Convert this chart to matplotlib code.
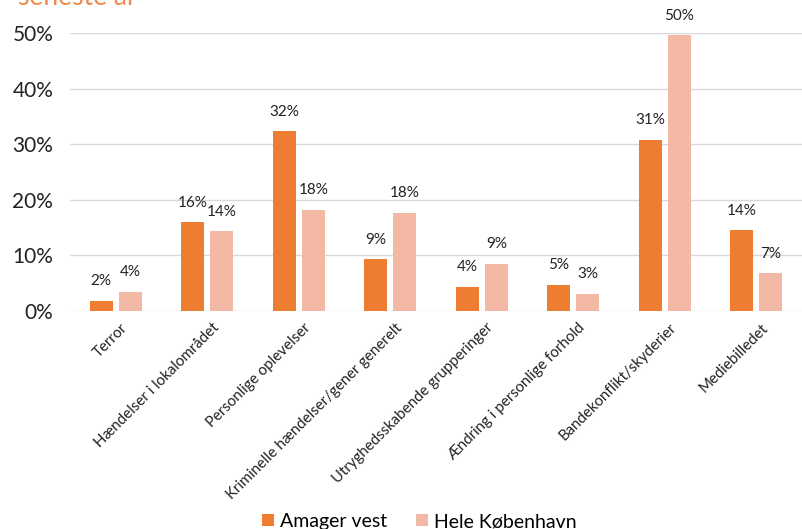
import matplotlib.pyplot as plt
import numpy as np

plt.rcParams['font.family'] = ['Lato', 'DejaVu Sans']

categories = ['Terror', 'Hændelser i lokalområdet', 'Personlige oplevelser',
              'Kriminelle hændelser/gener generelt', 'Utryghedsskabende grupperinger',
              'Ændring i personlige forhold', 'Bandekonflikt/skyderier', 'Mediebilledet']
amager_vest = [1.8, 16.0, 32.3, 9.3, 4.4, 4.7, 30.8, 14.5]
hele_kbh = [3.5, 14.3, 18.2, 17.7, 8.5, 3.1, 49.6, 6.8]
amager_labels = ['2%', '16%', '32%', '9%', '4%', '5%', '31%', '14%']
kbh_labels = ['4%', '14%', '18%', '18%', '9%', '3%', '50%', '7%']

orange = '#ED7D31'
pink = '#F4B9A4'

fig = plt.figure(figsize=(8.02, 5.29), dpi=100)
ax = fig.add_axes([70 / 802, 1 - 311 / 529, 1 - 70 / 802, (311 - 33) / 529])

x = np.arange(len(categories))
w = 0.25
off = 0.16
ax.bar(x - off, amager_vest, w, color=orange, label='Amager vest', zorder=3)
ax.bar(x + off, hele_kbh, w, color=pink, label='Hele København', zorder=3)

for xi, v, t in zip(x - off, amager_vest, amager_labels):
    ax.annotate(t, (xi, v), xytext=(0, 9), textcoords='offset points',
                ha='center', va='bottom', fontsize=11, color='#222222', annotation_clip=False)
for xi, v, t in zip(x + off, hele_kbh, kbh_labels):
    ax.annotate(t, (xi, v), xytext=(0, 9), textcoords='offset points',
                ha='center', va='bottom', fontsize=11, color='#222222', annotation_clip=False)

ax.set_xlim(-0.5, len(categories) - 0.5)
ax.set_ylim(0, 50)
ax.set_yticks(np.arange(0, 51, 10))
ax.set_yticklabels([f'{v}%' for v in range(0, 51, 10)], fontsize=15, color='#222222')
ax.set_xticks(x + 0.05)
ax.set_xticklabels(categories, rotation=45, ha='right', rotation_mode='anchor',
                   fontsize=10.8, color='#222222')
ax.tick_params(axis='both', length=0)
ax.tick_params(axis='y', pad=12)
ax.tick_params(axis='x', pad=7)
ax.grid(axis='y', color='#d9d9d9', linewidth=1, zorder=0)
for s in ax.spines.values():
    s.set_visible(False)

fig.text(0.022, 0.99, 'seneste år', color='#F08A4B', fontsize=19, va='baseline')

fig.legend(loc='lower center', bbox_to_anchor=(0.523, -0.035), ncol=2, frameon=False,
           fontsize=14, handlelength=0.6, handleheight=0.6, handletextpad=0.3,
           columnspacing=1.5)

fig.savefig('out.png', dpi=100)
